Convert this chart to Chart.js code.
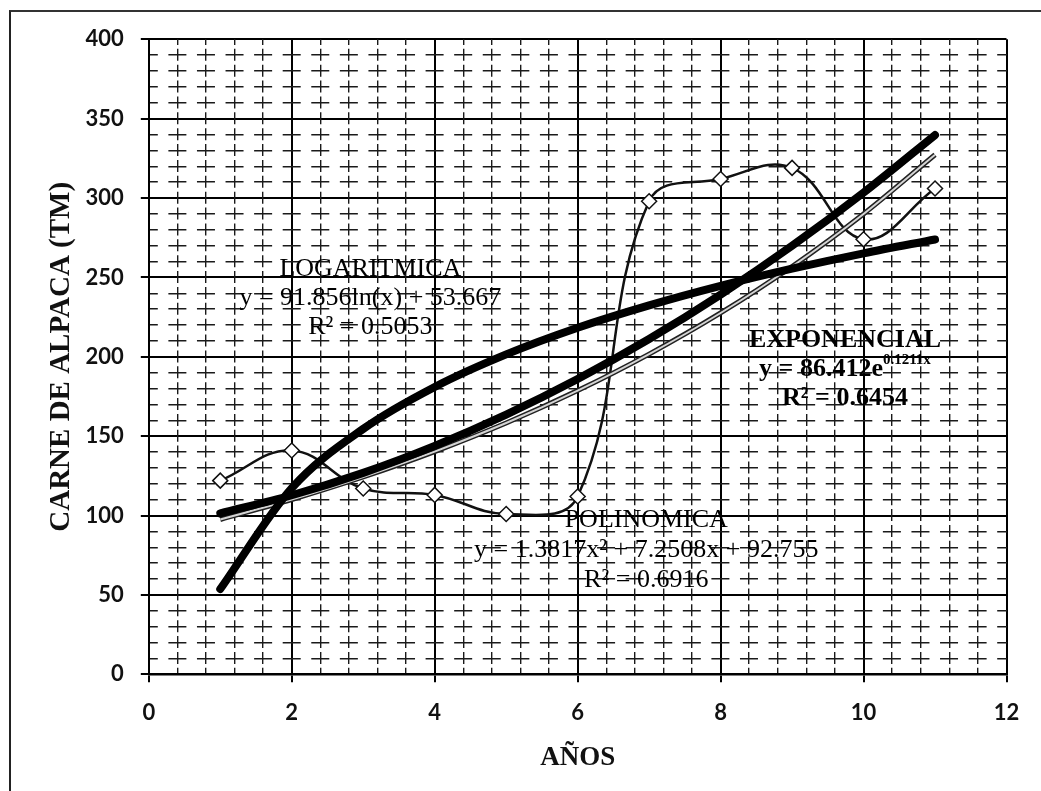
<!DOCTYPE html>
<html lang="es">
<head>
<meta charset="utf-8">
<title>Carne de alpaca (TM)</title>
<script src="https://cdn.jsdelivr.net/npm/chart.js@4.4.1/dist/chart.umd.min.js"></script>
<style>
  html, body { margin: 0; padding: 0; background: #fff; }
  #frame {
    position: absolute; left: 9px; top: 10px; width: 1040px; height: 790px;
    border-left: 2px solid #222; border-top: 2px solid #333;
  }
  #chart { position: absolute; left: 0; top: 0; }
</style>
</head>
<body>
<div id="frame"></div>
<canvas id="chart" width="1041" height="791"></canvas>
<script>
// producción anual de carne de alpaca (TM)
const years = [1, 2, 3, 4, 5, 6, 7, 8, 9, 10, 11];
const carne = [122, 141, 117, 113, 101, 112, 298, 312, 319, 274, 306];

// líneas de tendencia, valor en cada año
const logaritmica = [53.7, 117.3, 154.6, 181.0, 201.5, 218.3, 232.4, 244.7, 255.5, 265.2, 273.9];
const exponencial = [97.5, 110.1, 124.3, 140.3, 158.3, 178.7, 201.7, 227.6, 256.9, 290.0, 327.3];
const polinomica = [101.4, 112.8, 126.9, 143.9, 163.6, 186.0, 211.2, 239.2, 269.9, 303.4, 339.7];

const xTicks = [0, 2, 4, 6, 8, 10, 12];
const yTicks = [0, 50, 100, 150, 200, 250, 300, 350, 400];

function pts(values) {
  return years.map((x, i) => ({ x: x, y: values[i] }));
}

const tickFont = { family: 'Lato', size: 22, weight: 'bold' };
const serif = 'Liberation Serif';

// ecuaciones escritas sobre el gráfico, ancladas en coordenadas de datos
const notes = [
  { x: 3.1, y: 255, step: 29, bold: false, lines: [
    [['LOGARITMICA']],
    [['y = 91.856ln(x) + 53.667']],
    [['R² = 0.5053']] ] },
  { x: 9.74, y: 210.5, step: 29, bold: true, lines: [
    [['EXPONENCIAL']],
    [['y = 86.412e'], ['0.1211x', 'sup']],
    [['R² = 0.6454']] ] },
  { x: 6.96, y: 97, step: 30, bold: false, lines: [
    [['POLINOMICA']],
    [['y = 1.3817x² + 7.2508x + 92.755']],
    [['R² = 0.6916']] ] }
];

const notePlugin = {
  id: 'notes',
  afterDatasetsDraw(chart) {
    const ctx = chart.ctx;
    const sx = chart.scales.x, sy = chart.scales.y;
    ctx.save();
    ctx.fillStyle = '#000';
    ctx.textBaseline = 'middle';
    ctx.textAlign = 'left';
    notes.forEach(n => {
      const cx = sx.getPixelForValue(n.x);
      const cy = sy.getPixelForValue(n.y);
      const w = n.bold ? 'bold ' : '';
      n.lines.forEach((segs, i) => {
        const y = cy + i * n.step;
        let total = 0;
        const sizes = segs.map(s => {
          ctx.font = w + (s[1] === 'sup' ? 15 : 26) + 'px "' + serif + '"';
          return ctx.measureText(s[0]).width;
        });
        sizes.forEach(v => total += v);
        let x = cx - total / 2;
        segs.forEach((s, k) => {
          const sup = s[1] === 'sup';
          ctx.font = w + (sup ? 15 : 26) + 'px "' + serif + '"';
          ctx.fillText(s[0], x, sup ? y - 9 : y);
          x += sizes[k];
        });
      });
    });
    ctx.restore();
  }
};

const isMultiple = (v, m) => Math.abs(v / m - Math.round(v / m)) < 1e-6;

new Chart(document.getElementById('chart'), {
  type: 'line',
  data: {
    datasets: [
      {
        label: 'Polinomica',
        data: pts(polinomica),
        borderColor: '#000',
        borderWidth: 8,
        pointRadius: 0,
        cubicInterpolationMode: 'monotone',
        borderCapStyle: 'round',
        order: 1
      },
      {
        label: 'Logaritmica',
        data: pts(logaritmica),
        borderColor: '#000',
        borderWidth: 8,
        pointRadius: 0,
        cubicInterpolationMode: 'monotone',
        borderCapStyle: 'round',
        order: 1
      },
      {
        label: 'Exponencial',
        data: pts(exponencial),
        borderColor: '#d4d4d4',
        borderWidth: 2,
        pointRadius: 0,
        cubicInterpolationMode: 'monotone',
        order: 2
      },
      {
        label: 'Exponencial borde',
        data: pts(exponencial),
        borderColor: '#222',
        borderWidth: 5,
        pointRadius: 0,
        cubicInterpolationMode: 'monotone',
        order: 3
      },
      {
        label: 'Carne de alpaca',
        data: pts(carne),
        borderColor: '#111',
        borderWidth: 2.5,
        tension: 0.4,
        pointStyle: 'rectRot',
        pointRadius: 7.5,
        pointBackgroundColor: '#fff',
        pointBorderColor: '#111',
        pointBorderWidth: 1.5,
        order: 5
      }
    ]
  },
  options: {
    responsive: false,
    animation: false,
    layout: { padding: { left: 0, top: 39.3, right: 34.5, bottom: 0 } },
    plugins: {
      legend: { display: false },
      tooltip: { enabled: false }
    },
    scales: {
      x: {
        type: 'linear',
        min: 0,
        max: 12,
        afterBuildTicks: s => { s.ticks = xTicks.map(v => ({ value: v })); },
        afterFit: s => { s.height = 116.7; },
        ticks: { padding: 17, color: '#111', font: tickFont },
        grid: { color: '#000', lineWidth: 2, tickLength: 8, tickColor: '#000', tickWidth: 2 },
        border: { color: '#000', width: 2.5 },
        title: {
          display: true,
          text: 'AÑOS',
          color: '#111',
          font: { family: serif, size: 27, weight: 'bold' },
          padding: { top: 0, bottom: 17 }
        }
      },
      y: {
        type: 'linear',
        min: 0,
        max: 400,
        afterBuildTicks: s => { s.ticks = yTicks.map(v => ({ value: v })); },
        afterFit: s => { s.width = 148.8; },
        ticks: { padding: 17, color: '#111', font: tickFont },
        grid: { color: '#000', lineWidth: 2, tickLength: 8, tickColor: '#000', tickWidth: 2 },
        border: { color: '#000', width: 2 },
        title: {
          display: true,
          text: 'CARNE DE ALPACA (TM)',
          color: '#111',
          font: { family: serif, size: 29, weight: 'bold' },
          padding: { top: 44.6, bottom: 0 }
        }
      },
      // rejilla secundaria cada 0.4 años y cada 10 TM
      xMinor: {
        axis: 'x',
        type: 'linear',
        position: 'top',
        min: 0,
        max: 12,
        ticks: { display: false, stepSize: 0.4 },
        grid: {
          drawTicks: false,
          lineWidth: 1.4,
          color: c => isMultiple(c.tick.value, 2) ? 'rgba(0,0,0,0)' : '#1a1a1a'
        },
        border: { display: false, dash: [12, 3.87], dashOffset: 6 }
      },
      yMinor: {
        axis: 'y',
        type: 'linear',
        position: 'right',
        min: 0,
        max: 400,
        ticks: { display: false, stepSize: 10 },
        grid: {
          drawTicks: false,
          lineWidth: 1.5,
          color: c => isMultiple(c.tick.value, 50) ? 'rgba(0,0,0,0)' : '#1a1a1a'
        },
        border: { display: false, dash: [18, 10.58], dashOffset: 9 }
      }
    }
  },
  plugins: [notePlugin]
});
</script>
</body>
</html>
